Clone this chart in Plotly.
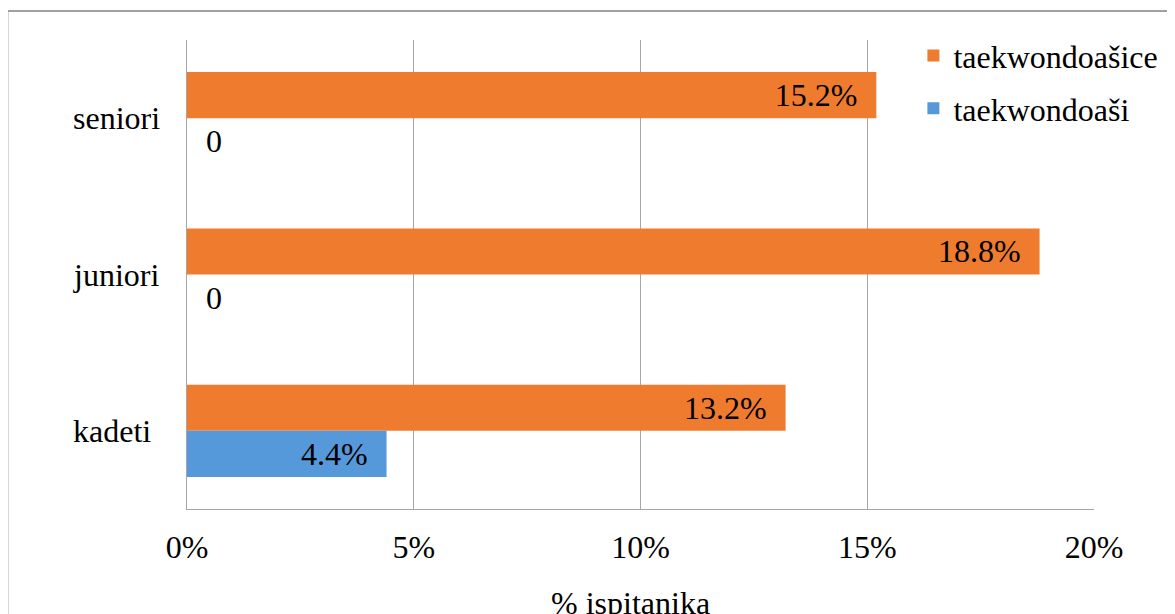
import plotly.graph_objects as go

# categories listed top to bottom
categories = ["seniori", "juniori", "kadeti"]
zenske = [15.2, 18.8, 13.2]      # taekwondoašice
muski = [0.0, 0.0, 4.4]          # taekwondoaši
x_ticks = [0, 5, 10, 15, 20]
x_tick_labels = ["0%", "5%", "10%", "15%", "20%"]
x_title = "% ispitanika"
name_m = "taekwondoaši"
name_z = "taekwondoašice"

FONT = "Liberation Serif"
FS = 32
PAD = "\u00a0\u00a0"


def labels(vals):
    out, pos = [], []
    for v in vals:
        if v == 0:
            out.append(PAD + "0")
            pos.append("outside")
        else:
            out.append(f"{v:.1f}%" + PAD)
            pos.append("inside")
    return out, pos


tm, pm = labels(muski)
tz, pz = labels(zenske)

fig = go.Figure()
fig.add_trace(go.Bar(
    y=categories, x=zenske, orientation="h", name=name_z,
    marker=dict(color="#EF7C2E", line=dict(width=0)),
    text=tz, textposition=pz, insidetextanchor="end",
    textfont=dict(family=FONT, size=FS, color="black"),
    cliponaxis=False, legendgroup="z",
))
fig.add_trace(go.Bar(
    y=categories, x=muski, orientation="h", name=name_m,
    marker=dict(color="#5599DA", line=dict(width=0)),
    text=tm, textposition=pm, insidetextanchor="end",
    textfont=dict(family=FONT, size=FS, color="black"),
    cliponaxis=False, legendgroup="m",
))

for c in categories:
    fig.add_annotation(x=-0.1278, xref="paper", y=c, yref="y", text=c,
                       showarrow=False, xanchor="left", yanchor="middle",
                       font=dict(family=FONT, size=FS, color="black"))

# axis title placed as a centred annotation below the tick labels
fig.add_annotation(x=0.489, xref="paper", y=-0.2, yref="paper", text=x_title,
                   showarrow=False, xanchor="center", yanchor="middle",
                   font=dict(family=FONT, size=FS, color="black"))

fig.add_shape(type="rect", xref="paper", yref="paper",
              x0=-0.198, y0=-0.6, x1=1.2, y1=1.0618,
              line=dict(color="#A0A0A0", width=2), layer="below")

fig.update_layout(
    width=1167, height=606,
    margin=dict(l=179, r=80, t=32, b=105),
    paper_bgcolor="white", plot_bgcolor="white",
    barmode="group", bargap=0.41, bargroupgap=0,
    font=dict(family=FONT, size=FS, color="black"),
    legend=dict(x=0.80, y=1.025, xanchor="left", yanchor="top",
                traceorder="grouped", tracegroupgap=8,
                bgcolor="rgba(0,0,0,0)",
                font=dict(family=FONT, size=FS, color="black")),
    xaxis=dict(range=[0, 20], tickvals=x_ticks, ticktext=x_tick_labels,
               showgrid=True, gridcolor="#A6A6A6", gridwidth=1,
               zeroline=False, showline=True, linecolor="#A6A6A6", linewidth=1,
               ticks="outside", ticklen=10, tickcolor="rgba(0,0,0,0)",
               automargin=False,
               tickfont=dict(family=FONT, size=FS, color="black")),
    yaxis=dict(showticklabels=False, showgrid=False, zeroline=False,
               showline=True, linecolor="#A6A6A6", linewidth=1,
               automargin=False, range=[2.5, -0.5]),
)

fig.write_html("out.html")
